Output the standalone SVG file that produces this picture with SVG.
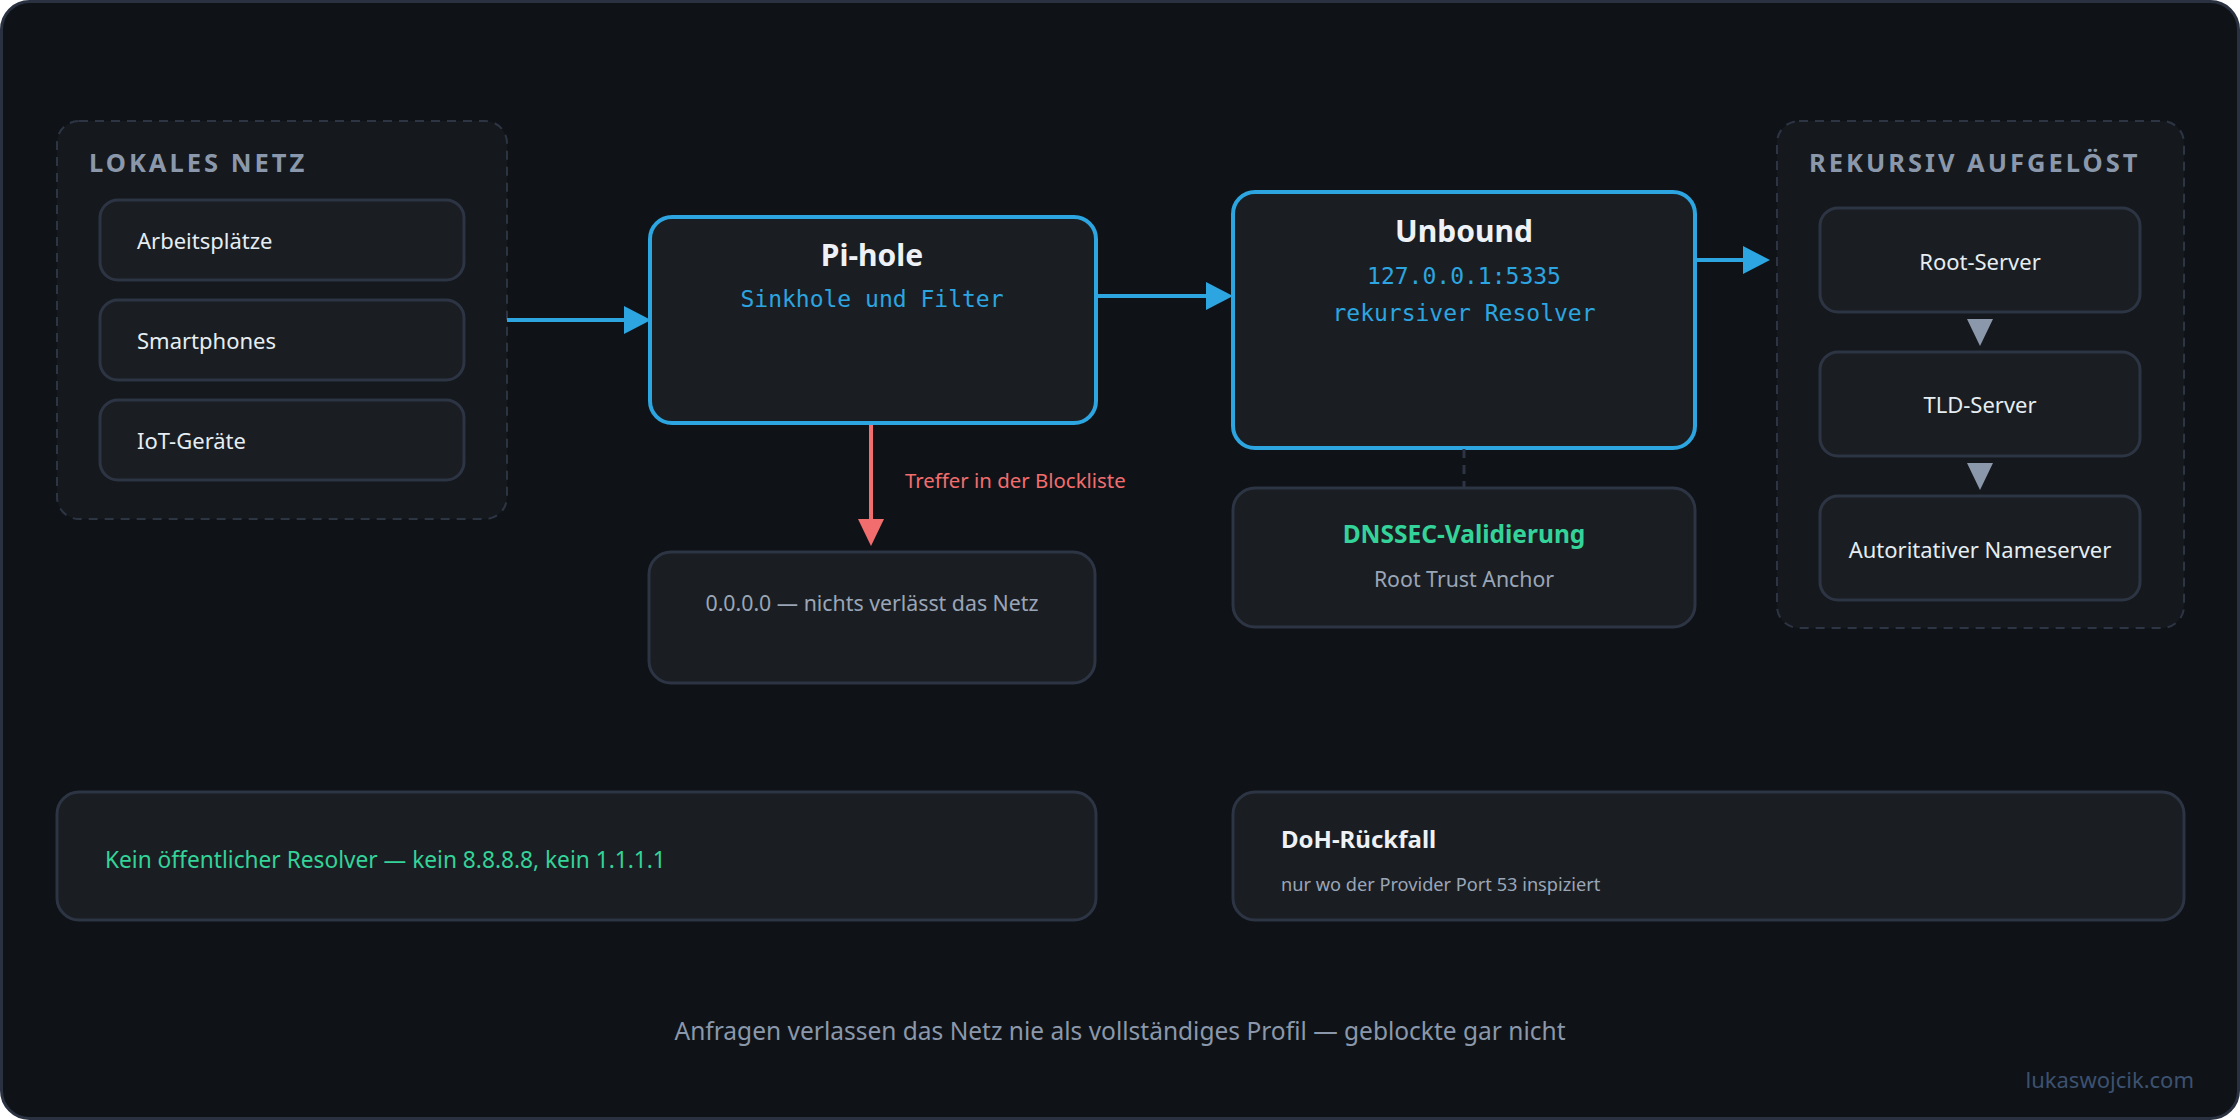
<svg xmlns="http://www.w3.org/2000/svg" width="2240" height="1120" viewBox="0 0 2240 1120">
<defs>
<style>
.bg{fill:#0f1317;stroke:#2a3140;stroke-width:3}
.grp{fill:#15191d;stroke:#2d3545;stroke-width:2;stroke-dasharray:9 7}
.node{fill:#1a1e22;stroke:#2d3545;stroke-width:3}
.main{fill:#1a1e22;stroke:#2ca5e0;stroke-width:4}
.t{font-family:"Noto Sans","Open Sans","Liberation Sans",sans-serif}
.gt{font-size:25.5px;font-weight:700;fill:#8b98ab;letter-spacing:3px}
.lbl{font-size:22px;fill:#e6edf3}
.title{font-size:30px;font-weight:700;fill:#eef2f6}
.mono{font-family:"DejaVu Sans Mono","Liberation Mono",monospace;font-size:23px;fill:#2ca5e0}
.sub{font-size:21.3px;fill:#9aa6b8}
.blue{stroke:#2ca5e0;stroke-width:4;fill:none}
</style>
</defs>
<rect class="bg" x="1.5" y="1.5" width="2237" height="1117" rx="28"/>

<g id="lokales-netz">
<rect class="grp" x="57" y="121" width="450" height="398" rx="22"/>
<text class="t gt" x="89" y="172">LOKALES NETZ</text>
</g>
<g id="arbeitsplaetze">
<rect class="node" x="100" y="200" width="364" height="80" rx="18"/>
<text class="t lbl" x="137" y="249">Arbeitsplätze</text>
</g>
<g id="smartphones">
<rect class="node" x="100" y="300" width="364" height="80" rx="18"/>
<text class="t lbl" x="137" y="349">Smartphones</text>
</g>
<g id="iot">
<rect class="node" x="100" y="400" width="364" height="80" rx="18"/>
<text class="t lbl" x="137" y="449">IoT-Geräte</text>
</g>

<g id="pihole">
<rect class="main" x="650" y="217" width="446" height="206" rx="22"/>
<text class="t title" x="872" y="266" text-anchor="middle">Pi-hole</text>
<text class="mono" x="872" y="307" text-anchor="middle">Sinkhole und Filter</text>
</g>

<g id="blocked">
<rect class="node" x="649" y="552" width="446" height="131" rx="22"/>
<text class="t sub" x="872" y="611" text-anchor="middle">0.0.0.0 — nichts verlässt das Netz</text>
</g>

<g id="unbound">
<rect class="main" x="1233" y="192" width="462" height="256" rx="22"/>
<text class="t title" x="1464" y="242" text-anchor="middle">Unbound</text>
<text class="mono" x="1464" y="284" text-anchor="middle">127.0.0.1:5335</text>
<text class="mono" x="1464" y="321" text-anchor="middle">rekursiver Resolver</text>
</g>

<g id="dnssec">
<rect class="node" x="1233" y="488" width="462" height="139" rx="22"/>
<text class="t" x="1464" y="543" text-anchor="middle" font-size="24.5" font-weight="700" fill="#34d399">DNSSEC-Validierung</text>
<text class="t sub" x="1464" y="587" text-anchor="middle" font-size="21">Root Trust Anchor</text>
</g>

<g id="rekursiv">
<rect class="grp" x="1777" y="121" width="407" height="507" rx="22"/>
<text class="t gt" x="1809" y="172">REKURSIV AUFGELÖST</text>
</g>
<g id="root-server">
<rect class="node" x="1820" y="208" width="320" height="104" rx="18"/>
<text class="t lbl" x="1980" y="270" text-anchor="middle">Root-Server</text>
</g>
<g id="tld-server">
<rect class="node" x="1820" y="352" width="320" height="104" rx="18"/>
<text class="t lbl" x="1980" y="413" text-anchor="middle">TLD-Server</text>
</g>
<g id="auth-server">
<rect class="node" x="1820" y="496" width="320" height="104" rx="18"/>
<text class="t lbl" x="1980" y="558" text-anchor="middle">Autoritativer Nameserver</text>
</g>

<g id="no-public">
<rect class="node" x="57" y="792" width="1039" height="128" rx="22"/>
<text class="t" x="105" y="868" font-size="22.7" fill="#34d399">Kein öffentlicher Resolver — kein 8.8.8.8, kein 1.1.1.1</text>
</g>

<g id="doh">
<rect class="node" x="1233" y="792" width="951" height="128" rx="22"/>
<text class="t" x="1281" y="848" font-size="24" font-weight="700" fill="#eef2f6">DoH-Rückfall</text>
<text class="t" x="1281" y="891" font-size="18.2" fill="#9aa6b8">nur wo der Provider Port 53 inspiziert</text>
</g>

<g id="connectors">
<line class="blue" x1="507" y1="320" x2="626" y2="320"/>
<polygon points="624,306 651,320 624,334" fill="#2ca5e0"/>
<line class="blue" x1="1096" y1="296" x2="1209" y2="296"/>
<polygon points="1206,282 1233,296 1206,310" fill="#2ca5e0"/>
<line class="blue" x1="1696" y1="260" x2="1746" y2="260"/>
<polygon points="1743,246 1770,260 1743,274" fill="#2ca5e0"/>
<line x1="871" y1="425" x2="871" y2="522" stroke="#f26d6d" stroke-width="4"/>
<polygon points="858,519 871,546 884,519" fill="#f26d6d"/>
<text class="t" x="905" y="488" font-size="20.4" fill="#f26d6d">Treffer in der Blockliste</text>
<line x1="1464" y1="449" x2="1464" y2="487" stroke="#2d3545" stroke-width="3" stroke-dasharray="9 7"/>
<polygon points="1967,319 1993,319 1980,346" fill="#8b98ab"/>
<polygon points="1967,463 1993,463 1980,490" fill="#8b98ab"/>
</g>

<text class="t" x="1120" y="1040" text-anchor="middle" font-size="24.5" fill="#8b98ab">Anfragen verlassen das Netz nie als vollständiges Profil — geblockte gar nicht</text>
<text class="t" x="2194" y="1088" text-anchor="end" font-size="22" fill="#3d5170">lukaswojcik.com</text>
</svg>
